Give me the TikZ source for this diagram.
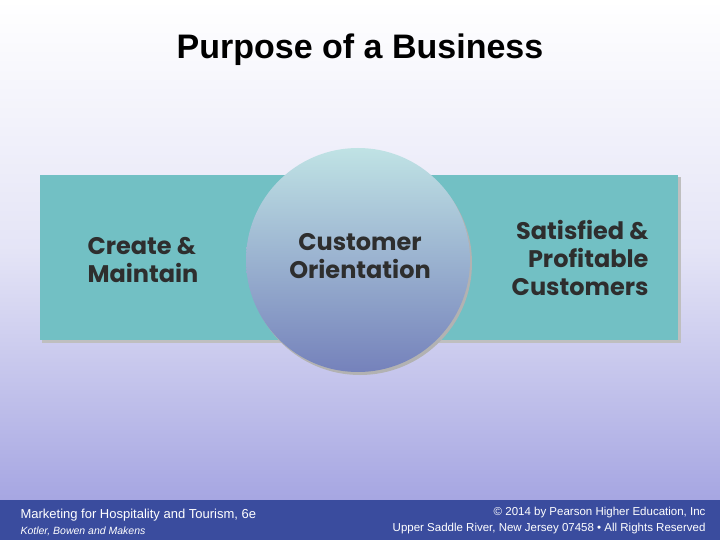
\documentclass[tikz,border=0pt]{standalone}
\usepackage{fontspec}
\setmainfont{Liberation Sans}
\newfontfamily\roundfont{Poppins}
\definecolor{teal}{HTML}{72C0C4}
\definecolor{lav}{HTML}{A6A6E2}
\definecolor{footblue}{HTML}{3A4C9E}
\definecolor{txtgray}{HTML}{2E2E2E}
\tikzset{
  bigtext/.style={font=\roundfont\bfseries\fontsize{24}{28}\selectfont, text=txtgray, align=left},
  foottext/.style={text=white, font=\fontsize{13}{15}\selectfont}
}
\begin{document}
\begin{tikzpicture}[x=1pt,y=-1pt]

% background
\shade[top color=white, bottom color=lav, middle color=white!70!lav] (0,0) rectangle (720,500);
\useasboundingbox (0,0) rectangle (720,540);

% title
\node (title) at (360,50) {\fontsize{34}{38}\selectfont\bfseries Purpose of a Business};

% band
\fill[black!25] (42,177) rectangle (681,343);
\fill[teal] (40,175) rectangle (678,340);

% circle
\fill[black!30] (360,263) circle (112);
\shade[top color=teal!45!white, bottom color=footblue!70!white] (358,260) circle (112);

% texts
\node[bigtext, anchor=west] (left) at (84,260) {Create \&\\Maintain};
\node[bigtext, align=center] (mid) at (360,256) {Customer\\Orientation};
\node[bigtext, align=right, anchor=east] (right) at (652,258) {Satisfied \&\\Profitable\\Customers};

% footer
\fill[footblue] (0,500) rectangle (720,540);
\node[foottext, anchor=west] (f1) at (17,515) {Marketing for Hospitality and Tourism, 6e};
\node[foottext, anchor=west, font=\fontsize{10.5}{12}\selectfont\itshape] (f2) at (17,531) {Kotler, Bowen and Makens};
\node[foottext, anchor=east, font=\fontsize{11.5}{13}\selectfont] (f3) at (709,513) {© 2014 by Pearson Higher Education, Inc};
\node[foottext, anchor=east, font=\fontsize{11.5}{13}\selectfont] (f4) at (709,529) {Upper Saddle River, New Jersey 07458 • All Rights Reserved};

\end{tikzpicture}
\end{document}
